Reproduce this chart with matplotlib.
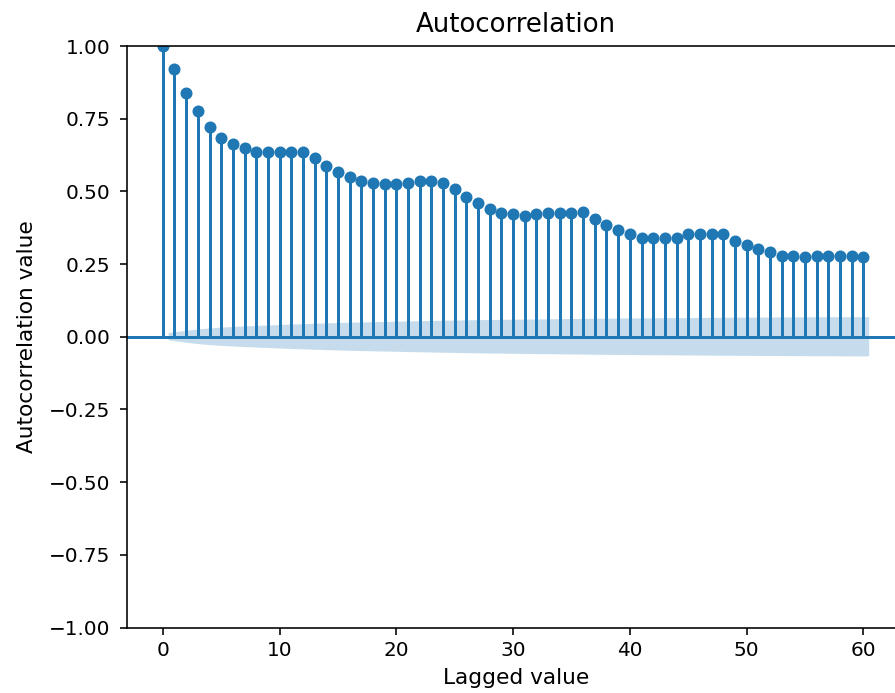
import numpy as np
import matplotlib.pyplot as plt

# sample autocorrelation, lags 0..60
lags = np.arange(0, 61)
acf_values = [
    1.000, 0.921, 0.837, 0.777, 0.723, 0.685, 0.663, 0.648, 0.636, 0.636,
    0.636, 0.637, 0.637, 0.614, 0.588, 0.566, 0.550, 0.534, 0.530, 0.525,
    0.525, 0.530, 0.535, 0.534, 0.530, 0.507, 0.482, 0.459, 0.439, 0.427,
    0.421, 0.416, 0.423, 0.427, 0.427, 0.427, 0.428, 0.405, 0.383, 0.368,
    0.353, 0.339, 0.339, 0.339, 0.339, 0.353, 0.353, 0.353, 0.353, 0.330,
    0.314, 0.302, 0.291, 0.279, 0.279, 0.274, 0.279, 0.279, 0.279, 0.279,
    0.274,
]
n_obs = 25000   # length of the series the acf was computed on
alpha_z = 1.96  # 95% band


def bartlett_band(acf, n, z):
    # half-width of the confidence band using Bartlett's formula
    acf = np.asarray(acf)
    var = np.ones(len(acf)) / n
    var[0] = 0
    var[1] = 1.0 / n
    var[2:] *= 1 + 2 * np.cumsum(acf[1:-1] ** 2)
    return z * np.sqrt(var)


if __name__ == '__main__':
    dpi = 144
    fig = plt.figure(figsize=(895 / dpi, 693 / dpi), dpi=dpi)
    ax = fig.add_axes([127.5 / 895, (693 - 627.5) / 693, 777 / 895, 581.5 / 693])

    acf = np.array(acf_values)
    ax.vlines(lags, [0], acf)
    ax.axhline()
    ax.plot(lags, acf, marker='o', markersize=5, linestyle='None', color='C0')

    half = bartlett_band(acf, n_obs, alpha_z)
    band_x = lags[1:].astype(float)
    band_x[0] -= 0.5
    band_x[-1] += 0.5
    ax.fill_between(band_x, -half[1:], half[1:], alpha=0.25, linewidth=0)

    ax.set_ylim(-1, 1)
    ax.tick_params(axis='y', pad=5)
    ax.set_title('Autocorrelation', fontsize=13, pad=7)
    ax.set_xlabel('Lagged value', fontsize=10.8, labelpad=4)
    ax.set_ylabel('Autocorrelation value', fontsize=10.8, labelpad=6)

    fig.savefig('out.png', dpi=dpi)
